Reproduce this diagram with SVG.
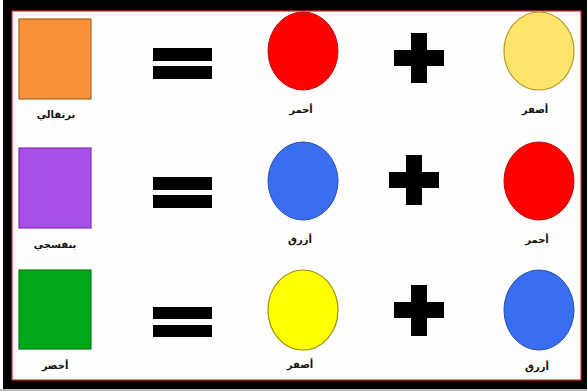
<svg xmlns="http://www.w3.org/2000/svg" width="587" height="391" viewBox="0 0 587 391">
<style>
.lbl{font-family:"DejaVu Sans",sans-serif;font-size:10px;font-weight:bold;fill:#111;text-anchor:middle}
.bar{fill:#000}
.sq{stroke-width:1.2}
</style>
<rect x="0" y="0" width="587" height="391" fill="#ffffff"/>
<rect x="3" y="0" width="584" height="389" fill="#000"/>
<rect x="0" y="389" width="587" height="2" fill="#bdbdbd"/>
<rect x="12" y="11" width="569" height="369" fill="#fdfdfb" stroke="#d9262c" stroke-width="1.2"/>
<g id="orange">
<rect class="sq" x="19" y="19" width="72" height="80" fill="#f7923a" stroke="#a8622a"/>
<text class="lbl" x="56" y="118">برتقالي</text>
</g>
<g id="purple">
<rect class="sq" x="19" y="148" width="72" height="80" fill="#a84fe8" stroke="#7a35aa"/>
<text class="lbl" x="55" y="248">بنفسجي</text>
</g>
<g id="green">
<rect class="sq" x="19" y="270" width="72" height="79" fill="#00a81a" stroke="#0a7a18"/>
<text class="lbl" x="55" y="369">أخضر</text>
</g>
<g id="eq1"><rect class="bar" x="153" y="48" width="59" height="13"/><rect class="bar" x="153" y="66" width="59" height="13"/></g>
<g id="eq2"><rect class="bar" x="153" y="177" width="59" height="13"/><rect class="bar" x="153" y="195" width="59" height="13"/></g>
<g id="eq3"><rect class="bar" x="153" y="307" width="59" height="12"/><rect class="bar" x="153" y="325" width="59" height="12"/></g>
<g id="red1">
<ellipse cx="303" cy="51" rx="35" ry="39" fill="#ff0000" stroke="#b51010" stroke-width="1"/>
<text class="lbl" x="301" y="113">أحمر</text>
</g>
<g id="blue1">
<ellipse cx="303" cy="181" rx="35" ry="39" fill="#3a6ef0" stroke="#2a4fa8" stroke-width="1"/>
<text class="lbl" x="300" y="243">أزرق</text>
</g>
<g id="yellow1">
<ellipse cx="303" cy="310" rx="35" ry="40" fill="#ffff00" stroke="#9c8f10" stroke-width="1.2"/>
<text class="lbl" x="300" y="368">أصفر</text>
</g>
<g id="plus1"><rect class="bar" x="411" y="33" width="16" height="50"/><rect class="bar" x="394" y="50" width="50" height="16"/></g>
<g id="plus2"><rect class="bar" x="406" y="155" width="16" height="50"/><rect class="bar" x="389" y="172" width="50" height="16"/></g>
<g id="plus3"><rect class="bar" x="411" y="285" width="16" height="51"/><rect class="bar" x="394" y="302" width="50" height="16"/></g>
<g id="yellow2">
<ellipse cx="539" cy="51" rx="35" ry="39" fill="#ffe46c" stroke="#b39a2a" stroke-width="1.2"/>
<text class="lbl" x="535" y="113">أصفر</text>
</g>
<g id="red2">
<ellipse cx="539" cy="181" rx="35" ry="39" fill="#ff0000" stroke="#b51010" stroke-width="1"/>
<text class="lbl" x="537" y="243">أحمر</text>
</g>
<g id="blue2">
<ellipse cx="539" cy="310" rx="35" ry="40" fill="#3a6ef0" stroke="#2a4fa8" stroke-width="1"/>
<text class="lbl" x="537" y="370">أزرق</text>
</g>
<g id="connectors"></g>
</svg>
